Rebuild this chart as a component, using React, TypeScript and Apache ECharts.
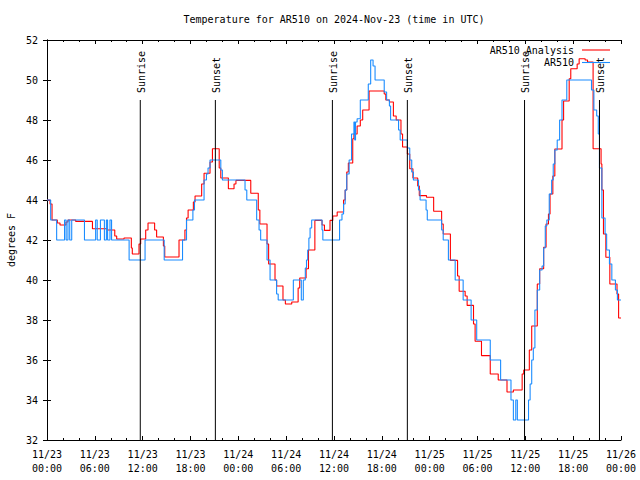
import React, { useEffect, useRef } from "react";
import * as echarts from "echarts";

// ---- data (hours since 2024-11-23 00:00 UTC, degrees F) ----
const analysisHours = [0, 0.38, 0.63, 1.3, 1.63, 2.38, 2.63, 3.6, 5.7, 7.57, 8.5, 8.74, 9.66, 10.58, 10.7, 11.54, 11.75, 12.38, 12.67, 13.5, 13.75, 14.6, 14.77, 16.56, 17.3, 17.5, 17.7, 18.36, 18.57, 19.4, 19.7, 20.45, 20.75, 21.6, 21.8, 22.75, 23.46, 23.7, 25.56, 26.5, 26.7, 27.6, 27.8, 28.6, 28.8, 29.6, 29.9, 30.7, 31.5, 31.7, 32.5, 32.8, 33.6, 34.5, 34.8, 35.5, 35.85, 36.4, 37.2, 37.4, 37.6, 37.8, 38.35, 38.5, 38.9, 39.3, 39.6, 40.4, 42.3, 42.5, 42.95, 43.45, 43.8, 44.4, 44.6, 45.2, 45.5, 45.9, 46.5, 46.7, 47.6, 48.5, 49.5, 49.7, 50.6, 51.5, 51.7, 52.45, 52.7, 53.5, 53.7, 54.5, 55.6, 56.6, 57.7, 58.5, 59.6, 59.8, 60.5, 60.8, 61.5, 61.8, 62.3, 62.6, 62.9, 63.1, 63.45, 63.7, 64.6, 64.8, 65.5, 65.7, 66.5, 66.75, 67.5, 67.8, 68.5, 69.5, 69.6, 69.8, 70.1, 70.6, 71.5, 71.7, 72];
const analysisTemps = [44.0, 43.8, 43.0, 42.85, 42.75, 42.9, 43.0, 42.93, 42.56, 42.5, 42.2, 42.05, 42.1, 41.6, 41.3, 41.8, 42.05, 42.5, 42.85, 42.5, 42.15, 41.7, 41.15, 42.0, 42.5, 43.1, 43.5, 43.9, 44.2, 44.8, 45.34, 45.9, 46.56, 45.6, 45.1, 44.56, 44.8, 44.98, 44.34, 43.5, 42.8, 41.8, 40.8, 40.0, 39.7, 39.0, 38.8, 38.9, 39.6, 40.1, 40.56, 41.5, 42.98, 42.75, 42.48, 42.98, 43.2, 43.4, 44.0, 44.5, 45.4, 45.85, 47.06, 47.3, 47.7, 48.0, 48.5, 49.45, 49.3, 49.0, 48.9, 48.2, 48.0, 47.3, 46.65, 46.3, 45.56, 45.1, 44.7, 44.22, 44.14, 43.44, 42.8, 42.3, 40.98, 40.2, 39.44, 39.2, 38.73, 37.8, 36.94, 36.22, 35.3, 35.0, 34.4, 34.5, 35.3, 35.5, 36.5, 37.7, 39.8, 40.56, 41.64, 42.8, 43.3, 44.3, 45.2, 46.55, 48.0, 48.95, 50.06, 50.56, 50.8, 51.06, 51.0, 50.9, 46.56, 45.8, 44.5, 42.3, 41.14, 39.8, 39.3, 38.1, 38.1];

const obsHours = [0, 0.46, 1.21, 2.2, 2.4, 2.63, 2.85, 3.1, 4.7, 6.1, 6.3, 6.7, 7.2, 7.45, 7.6, 7.9, 8.1, 10.3, 12.3, 14.7, 17.0, 17.5, 18.3, 18.5, 19.7, 20.0, 20.2, 20.45, 21.8, 22.0, 24.84, 25.06, 26.3, 26.6, 26.8, 27.6, 27.98, 28.8, 29.0, 30.9, 31.9, 32.15, 32.4, 32.55, 32.7, 32.85, 33.0, 33.2, 34.5, 34.6, 36.7, 37.0, 37.2, 37.4, 37.6, 37.9, 38.2, 38.5, 38.6, 38.7, 38.9, 39.3, 40.3, 40.6, 40.9, 41.15, 42.3, 42.6, 42.95, 43.1, 44.1, 44.3, 45.2, 45.5, 45.75, 45.96, 46.6, 46.8, 47.55, 47.7, 49.5, 49.7, 50.35, 51.2, 52.2, 53.2, 53.9, 55.6, 56.9, 58.2, 58.5, 58.8, 59.0, 60.4, 60.6, 60.8, 61.0, 61.2, 61.5, 61.8, 62.1, 62.3, 62.5, 62.7, 63.0, 63.3, 63.5, 63.7, 64.0, 64.3, 64.6, 65.2, 68.3, 68.6, 68.95, 69.15, 69.3, 69.6, 70.0, 70.2, 70.55, 70.85, 71.3, 71.55, 72];
const obsTemps = [44, 43, 42, 43, 42, 43, 42, 43, 42, 43, 42, 43, 42, 43, 42, 43, 42, 41, 42, 41, 42, 43, 43.5, 44, 45, 45.3, 45.6, 46, 45.5, 45, 44.5, 44, 43, 42.5, 42, 41, 40, 39.3, 39, 40, 39, 40, 40.6, 41, 41.5, 42.1, 42.6, 43, 42.5, 42, 43, 43.3, 43.8, 44.5, 45.3, 46, 47.3, 47.9, 47.0, 47.9, 48.06, 49, 49.8, 51, 50.7, 50, 49.4, 49, 48.7, 48, 47.5, 47, 46.6, 46.0, 45.4, 45, 44.5, 44, 43.5, 43, 42.5, 42, 41, 40, 39, 38, 37, 36, 35, 34, 33, 34, 33, 34, 34.8, 36, 36.6, 38.5, 39.5, 40.5, 40.7, 41.6, 42.7, 43, 44.3, 45, 45.8, 46.5, 47, 48, 49, 50, 49.5, 48.5, 48.2, 47.3, 45.6, 43.1, 42.3, 41.5, 40.8, 40, 39.5, 39, 39];

const sunHours = [11.7, 21.12, 35.8, 45.2, 59.9, 69.3];
const sunLabels = ["Sunrise", "Sunset", "Sunrise", "Sunset", "Sunrise", "Sunset"];

const seriesNames = ["AR510 Analysis", "AR510"];
const seriesColors = ["#ff0000", "#1a8cff"];
const dayLabels = ["11/23", "11/24", "11/25", "11/26"];
const titleText = "Temperature for AR510 on 2024-Nov-23 (time in UTC)";
const yAxisTitle = "degrees F";

const FONT = '"DejaVu Sans Mono", monospace';

function zip(h: number[], v: number[]) {
  return h.map((x, i) => [x, v[i]]);
}

export default function App() {
  const ref = useRef<HTMLDivElement>(null);
  useEffect(() => {
    if (!ref.current) return;
    const chart = echarts.init(ref.current, null, { renderer: "svg" });
    const axisCommon = {
      type: "value" as const,
      axisLine: { show: true, lineStyle: { color: "#000", width: 1 } },
      splitLine: { show: false },
    };
    const fmtX = (v: number) => {
      const d = Math.floor(v / 24);
      const hh = Math.round(v % 24);
      return dayLabels[d] + "\n" + String(hh).padStart(2, "0") + ":00";
    };
    const legendX = 574;
    const option: any = {
      animation: false,
      backgroundColor: "#fff",
      grid: { left: 47, right: 19, top: 40, bottom: 40 },
      xAxis: [
        {
          ...axisCommon,
          position: "bottom",
          min: 0,
          max: 72,
          interval: 6,
          axisTick: { show: true, inside: true, length: 4, lineStyle: { color: "#000" } },
          minorTick: { show: true, splitNumber: 3, length: 2, lineStyle: { color: "#000" } },
          axisLabel: {
            formatter: fmtX,
            fontFamily: FONT,
            fontSize: 10,
            color: "#000",
            lineHeight: 14,
            margin: 7,
          },
        },
        {
          ...axisCommon,
          position: "top",
          min: 0,
          max: 72,
          interval: 6,
          axisTick: { show: true, inside: true, length: 4, lineStyle: { color: "#000" } },
          minorTick: { show: true, splitNumber: 3, length: 2, lineStyle: { color: "#000" } },
          axisLabel: { show: false },
        },
      ],
      yAxis: [
        {
          ...axisCommon,
          position: "left",
          min: 32,
          max: 52,
          interval: 2,
          axisTick: { show: true, inside: true, length: 4, lineStyle: { color: "#000" } },
          axisLabel: { fontFamily: FONT, fontSize: 10, color: "#000", margin: 9 },
        },
        {
          ...axisCommon,
          position: "right",
          min: 32,
          max: 52,
          interval: 2,
          axisTick: { show: true, inside: true, length: 4, lineStyle: { color: "#000" } },
          axisLabel: { show: false },
        },
      ],
      series: [
        {
          name: seriesNames[0],
          type: "line",
          step: "end",
          showSymbol: false,
          data: zip(analysisHours, analysisTemps),
          lineStyle: { color: seriesColors[0], width: 1.1 },
          itemStyle: { color: seriesColors[0] },
          z: 2,
        },
        {
          name: seriesNames[1],
          type: "line",
          step: "end",
          showSymbol: false,
          data: zip(obsHours, obsTemps),
          lineStyle: { color: seriesColors[1], width: 1.1 },
          itemStyle: { color: seriesColors[1] },
          z: 3,
        },
        {
          type: "custom",
          z: 4,
          data: sunHours.map((h) => [h, 32]),
          renderItem: (params: any, api: any) => {
            const h = api.value(0);
            const p0 = api.coord([h, 32]);
            const p1 = api.coord([h, 49]);
            return {
              type: "group",
              children: [
                {
                  type: "line",
                  shape: { x1: p0[0], y1: p0[1], x2: p1[0], y2: p1[1] },
                  style: { stroke: "#000", lineWidth: 1 },
                },
                {
                  type: "text",
                  x: p1[0] + 1,
                  y: p1[1] - 7,
                  rotation: Math.PI / 2,
                  style: {
                    text: sunLabels[params.dataIndex],
                    fill: "#000",
                    font: "10px " + FONT,
                    textAlign: "left",
                    textVerticalAlign: "middle",
                  },
                },
              ],
            };
          },
        },
      ],
      graphic: [
        {
          type: "text",
          x: 334,
          y: 19,
          style: {
            text: titleText,
            fill: "#000",
            font: "10px " + FONT,
            textAlign: "center",
            textVerticalAlign: "middle",
          },
        },
        {
          type: "text",
          x: 11,
          y: 240,
          rotation: Math.PI / 2,
          style: {
            text: yAxisTitle,
            fill: "#000",
            font: "10px " + FONT,
            textAlign: "center",
            textVerticalAlign: "middle",
          },
        },
        ...seriesNames.flatMap((name, i) => [
          {
            type: "text",
            x: legendX,
            y: 50 + i * 12.5,
            z: 10,
            style: {
              text: name,
              fill: "#000",
              font: "10px " + FONT,
              textAlign: "right",
              textVerticalAlign: "middle",
            },
          },
          {
            type: "line",
            z: 10,
            shape: { x1: 582, y1: 50 + i * 12.5, x2: 610, y2: 50 + i * 12.5 },
            style: { stroke: seriesColors[i], lineWidth: 1.1 },
          },
        ]),
      ],
    };
    chart.setOption(option);
    return () => chart.dispose();
  }, []);
  return (
    <div
      ref={ref}
      style={{ position: "fixed", left: 0, top: 0, width: 640, height: 480, background: "#fff" }}
    />
  );
}
